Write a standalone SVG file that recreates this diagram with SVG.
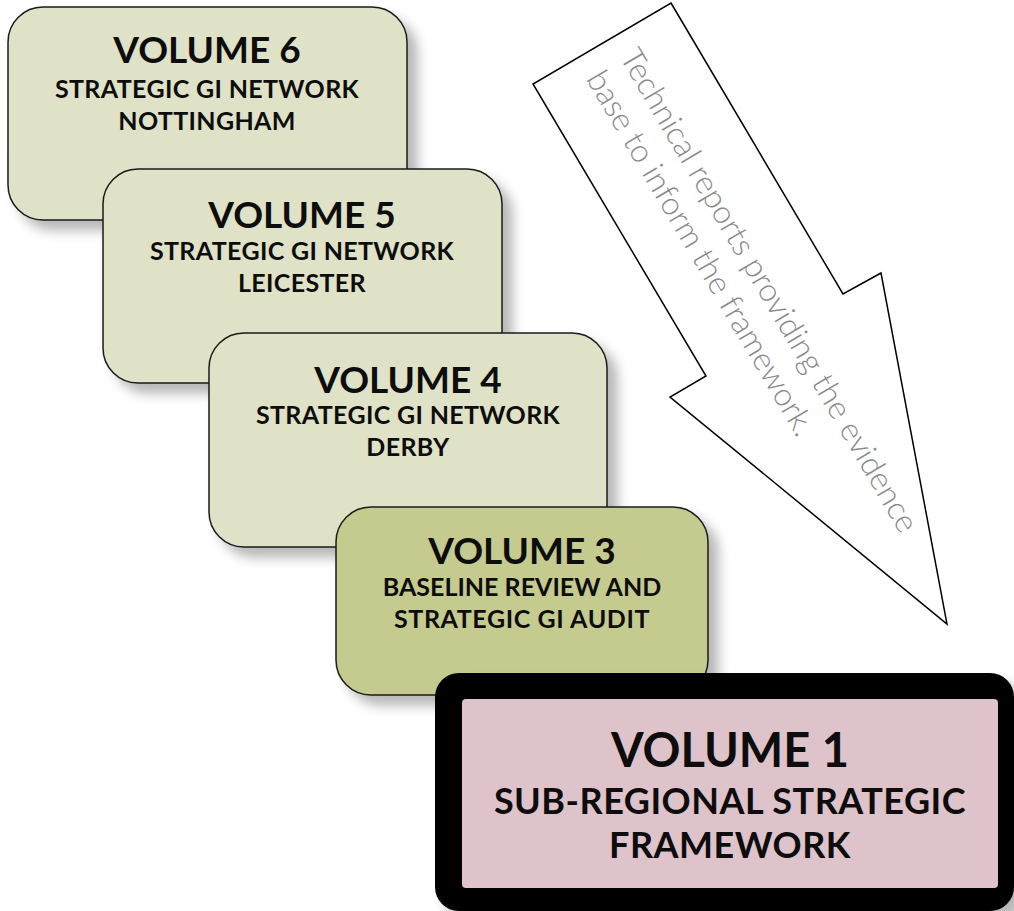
<svg xmlns="http://www.w3.org/2000/svg" width="1014" height="911" viewBox="0 0 1014 911">
  <defs>
    <filter id="shadow" x="-10%" y="-10%" width="130%" height="130%">
      <feDropShadow dx="10" dy="10" stdDeviation="6" flood-color="#000" flood-opacity="0.28"/>
    </filter>
    <style>
      .box { stroke: #1a1a1a; stroke-width: 1.5; filter: url(#shadow); }
      .light { fill: #dfe2c6; }
      .mid { fill: #c5ca8e; }
      .t { font-family: Lato, "Open Sans", sans-serif; font-weight: 700; fill: #0d0d0d; text-anchor: middle; }
      .title { font-size: 37px; }
      .sub { font-size: 25px; letter-spacing: 0.35px; }
      .arrowtxt { font-family: Lato, "Open Sans", sans-serif; font-weight: 300; font-size: 32px; fill: #8a8a8a; }
    </style>
  </defs>
  <rect width="1014" height="911" fill="#ffffff"/>

  <g id="volume6">
    <rect class="box light" x="8" y="7" width="399" height="213" rx="35"/>
    <text class="t title" x="207" y="63">VOLUME 6</text>
    <text class="t sub" x="207" y="98">STRATEGIC GI NETWORK</text>
    <text class="t sub" x="207" y="130">NOTTINGHAM</text>
  </g>

  <g id="volume5">
    <rect class="box light" x="103" y="169" width="399" height="214" rx="35"/>
    <text class="t title" x="302" y="228">VOLUME 5</text>
    <text class="t sub" x="302" y="260">STRATEGIC GI NETWORK</text>
    <text class="t sub" x="302" y="292">LEICESTER</text>
  </g>

  <g id="volume4">
    <rect class="box light" x="209" y="333" width="398" height="214" rx="35"/>
    <text class="t title" x="408" y="393">VOLUME 4</text>
    <text class="t sub" x="408" y="424">STRATEGIC GI NETWORK</text>
    <text class="t sub" x="408" y="456">DERBY</text>
  </g>

  <g id="volume3">
    <rect class="box mid" x="336" y="507" width="372" height="188" rx="35"/>
    <text class="t title" x="522" y="564">VOLUME 3</text>
    <text class="t sub" x="522" y="596" style="letter-spacing:0">BASELINE REVIEW AND</text>
    <text class="t sub" x="522" y="628" style="letter-spacing:0.6px">STRATEGIC GI AUDIT</text>
  </g>

  <g id="connectors">
    <g id="arrow-evidence">
      <polygon points="671,3 843,294 881,273 947,624 670,397 706,376 533,84" fill="#ffffff" stroke="#000" stroke-width="1.5" stroke-linejoin="miter"/>
      <text class="arrowtxt" transform="translate(619,56.7) rotate(59.5)">Technical reports providing the evidence</text>
      <text class="arrowtxt" transform="translate(585.6,78.7) rotate(59.5)">base to inform the framework.</text>
    </g>
  </g>

  <g id="volume1">
    <rect x="435" y="673" width="579" height="238" rx="24" fill="#000000" filter="url(#shadow)"/>
    <rect x="462" y="699" width="536" height="189" rx="4" fill="#dfc3cb"/>
    <text class="t" style="font-size:47px" x="730" y="767">VOLUME 1</text>
    <text class="t" style="font-size:36px;letter-spacing:0.5px" x="730" y="814">SUB-REGIONAL STRATEGIC</text>
    <text class="t" style="font-size:36px;letter-spacing:0.5px" x="730" y="858">FRAMEWORK</text>
  </g>
</svg>
